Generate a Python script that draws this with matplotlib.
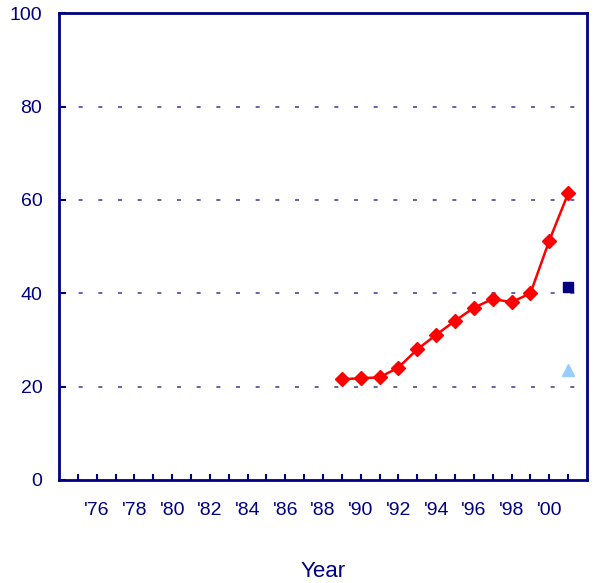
import matplotlib
matplotlib.use("Agg")
import matplotlib.pyplot as plt

years = [1989, 1990, 1991, 1992, 1993, 1994, 1995, 1996, 1997, 1998, 1999, 2000, 2001]
values = [21.6, 21.8, 22.0, 24.1, 28.0, 31.1, 34.1, 36.9, 38.8, 38.1, 40.0, 51.3, 61.4]
square_year = [2001]
square_value = [41.4]
triangle_year = [2001]
triangle_value = [23.6]
tick_years = list(range(1975, 2002))
label_years = list(range(1976, 2001, 2))
y_ticks = [0, 20, 40, 60, 80, 100]

navy = "#000080"
plt.rcParams["font.family"] = ["Liberation Sans", "DejaVu Sans"]

fig = plt.figure(figsize=(5.94, 5.83), dpi=100)
ax = fig.add_axes([59/594, 1-480/583, (587-59)/594, (480-13.3)/583])

for y in y_ticks[1:-1]:
    ax.axhline(y, color="#4848a0", lw=1.2, dashes=(2.4, 9.4), zorder=1)

ax.plot(years, values, color="#ff0000", lw=1.8, marker="D", ms=7,
        markerfacecolor="#ff0000", markeredgecolor="#ff0000", zorder=3)
ax.plot(square_year, square_value, ls="none", marker="s", ms=7.5, color=navy, zorder=3)
ax.plot(triangle_year, triangle_value, ls="none", marker="^", ms=8.5, color="#99ccff", zorder=3)

ax.set_xlim(1974, 2002)
ax.set_ylim(0, 100)
ax.set_xticks(tick_years)
ax.set_xticklabels([("'" + str(t)[2:]) if t in label_years else "" for t in tick_years])
ax.set_yticks(y_ticks)
ax.set_yticklabels([str(v) for v in y_ticks])

for s in ax.spines.values():
    s.set_color(navy)
    s.set_linewidth(2.0)

ax.tick_params(axis="x", direction="in", length=4, width=1.5, color=navy,
               labelcolor=navy, labelsize=14, pad=16)
ax.tick_params(axis="y", direction="in", length=5, width=1.5, color=navy,
               labelcolor=navy, labelsize=14, pad=12)

ax.set_xlabel("Year", color=navy, fontsize=16, labelpad=30)

fig.savefig("out.png", dpi=100)
